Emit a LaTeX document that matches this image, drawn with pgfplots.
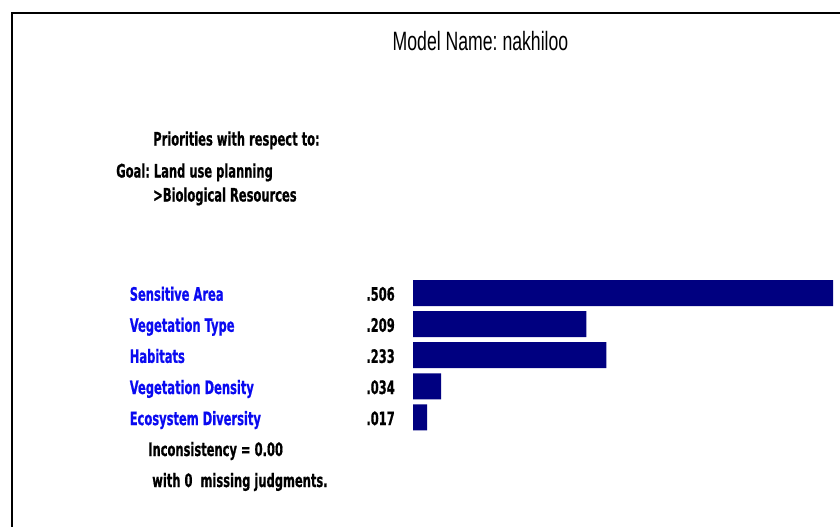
\documentclass[border=0pt]{standalone}
\usepackage{pgfplots}
\pgfplotsset{compat=1.18}
\usepackage{fontspec}
\setmainfont{DejaVu Sans}
\newfontfamily\lblfont[FakeStretch=0.62,FakeBold=0.6]{DejaVu Sans}
\newfontfamily\ttlfont[FakeStretch=0.665]{Liberation Sans}
\definecolor{barnavy}{RGB}{0,0,128}
\definecolor{lblblue}{RGB}{10,10,240}
\frenchspacing
\begin{document}
\begin{tikzpicture}[x=0.75pt,y=-0.75pt]
\path[use as bounding box] (0,0) rectangle (840,526);
\draw[line width=1.6pt,line cap=rect] (12,526) -- (12,13) -- (840,13);
% title
\node[anchor=base,inner sep=0pt,font=\ttlfont\fontsize{19.9}{22}\selectfont] at (480.5,50.7) {Model Name: nakhiloo};
% header text
\begin{scope}[every node/.style={inner sep=0pt,anchor=base west,font=\lblfont\bfseries\fontsize{13.9}{16}\selectfont}]
\node at (153,145.5) {Priorities with respect to:};
\node at (116,177.5) {Goal: Land use planning};
\node at (153,201.5) {>Biological Resources};
\node[text=lblblue] at (129.5,300.7) {Sensitive Area};
\node[text=lblblue] at (129.5,331.8) {Vegetation Type};
\node[text=lblblue] at (129.5,362.9) {Habitats};
\node[text=lblblue] at (129.5,394.0) {Vegetation Density};
\node[text=lblblue] at (129.5,425.1) {Ecosystem Diversity};
\node[anchor=base east] at (395,300.7) {.506};
\node[anchor=base east] at (395,331.8) {.209};
\node[anchor=base east] at (395,362.9) {.233};
\node[anchor=base east] at (395,394.0) {.034};
\node[anchor=base east] at (395,425.1) {.017};
\node at (148,456) {Inconsistency = 0.00};
\node at (152,487) {with 0~ missing judgments.};
\end{scope}
\coordinate (A) at (413,277.45);
\begin{axis}[
  at={(A)}, anchor=north west,
  scale only axis, width=315pt, height=116.6pt,
  xmin=0, xmax=0.506, ymin=-0.5, ymax=4.5,
  y dir=reverse, hide axis, clip=false,
  xbar, bar width=19.5pt,
]
\addplot[fill=barnavy, draw=none] coordinates {(0.506,0) (0.209,1) (0.233,2) (0.034,3) (0.017,4)};
\end{axis}
\end{tikzpicture}
\end{document}
